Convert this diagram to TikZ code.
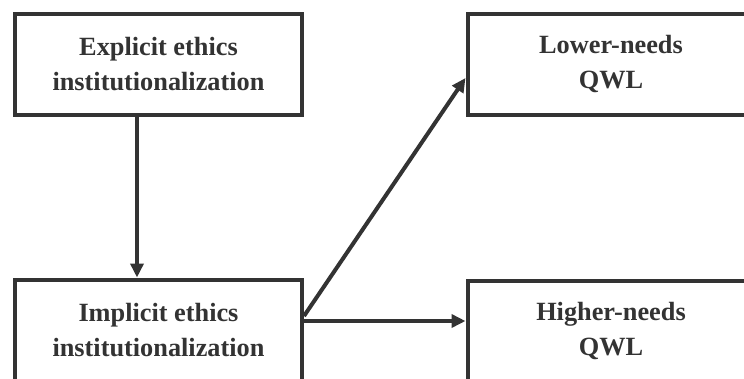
\documentclass[tikz,border=0pt]{standalone}
\usepackage{fontspec}
\setmainfont{Liberation Serif}
\usetikzlibrary{arrows.meta}
\definecolor{ink}{HTML}{333333}
\begin{document}
\begin{tikzpicture}[x=1pt,y=-1pt,
  box/.style={draw=ink, line width=4pt, rectangle, minimum width=287pt, minimum height=101pt,
    inner sep=0pt, align=center, text=ink, font=\fontsize{26.3}{35}\selectfont\bfseries},
  arr/.style={draw=ink, line width=4pt, -{Triangle[length=14pt,width=13pt]}}]
\useasboundingbox (0,0) rectangle (744,378);
\clip (0,0) rectangle (744,378);
\fill[white] (0,0) rectangle (744,378);
\node[box] (TL) at (158.5,64.5) {Explicit ethics\\institutionalization};
\node[box] (BL) at (158.5,330) {Implicit ethics\\institutionalization};
\node[box] (TR) at (611,64.5) {Lower-needs\\QWL};
\node[box] (BR) at (611,331) {Higher-needs\\QWL};
\coordinate (d0) at ([yshift=14pt]BL.east);
\coordinate (d1) at ([yshift=-13.5pt]TR.west);
\coordinate (h0) at ([yshift=9pt]BL.east);
\draw[arr] ([xshift=-21.5pt]TL.south) -- ([xshift=-21.5pt]BL.north);
\draw[arr] (d0) -- (d1);
\draw[arr] (h0) -- (h0 -| BR.west);
\end{tikzpicture}
\end{document}
